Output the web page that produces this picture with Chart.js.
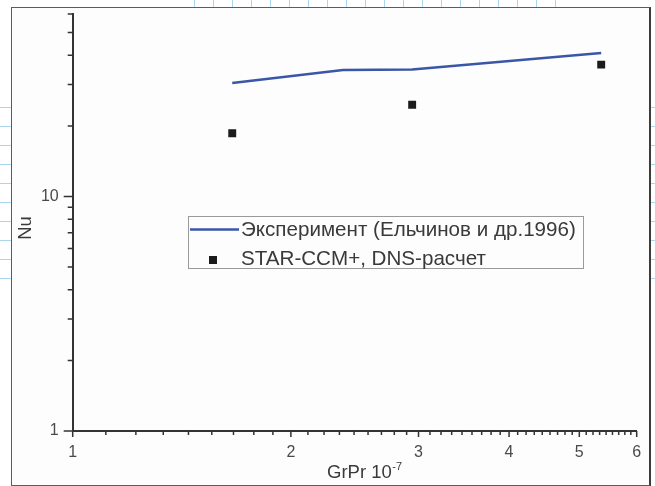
<!DOCTYPE html>
<html>
<head>
<meta charset="utf-8">
<script src="https://cdn.jsdelivr.net/npm/chart.js@4.4.1/dist/chart.umd.min.js"></script>
<style>
  html, body { margin: 0; padding: 0; background: #fff; }
  #wrap { position: relative; width: 655px; height: 486px; overflow: hidden; }
  .paper { position: absolute; }
  .paper.top { left: 194px; top: 0; width: 362px; height: 7px;
    background: repeating-linear-gradient(to right, #a9d7f0 0 1px, transparent 1px 19px); }
  .paper.left { left: 0; top: 107px; width: 11px; height: 172px;
    background: repeating-linear-gradient(to bottom, #a9d7f0 0 1px, transparent 1px 19px); }
  .paper.right { left: 651px; top: 107px; width: 4px; height: 172px;
    background: repeating-linear-gradient(to bottom, #a9d7f0 0 1px, transparent 1px 19px); }
  #frame { position: absolute; left: 11px; top: 7px; width: 640px; height: 479px; box-sizing: border-box;
    border: 1px solid #5c5c5c; border-right: 2px solid #3c3c3c; background: #fdfdfd; }
  canvas { position: absolute; left: 0; top: 0; }
</style>
</head>
<body>
<div id="wrap">
  <div class="paper top"></div>
  <div class="paper left"></div>
  <div class="paper right"></div>
  <div id="frame"></div>
  <canvas id="chart" width="655" height="486"></canvas>
</div>
<script>
// эксперимент (линия)
const expGrPr = [1.66, 2.36, 2.94, 5.36];
const expNu = [30.5, 34.6, 34.8, 40.9];
// STAR-CCM+ (точки)
const simGrPr = [1.66, 2.94, 5.36];
const simNu = [18.6, 24.6, 36.5];

const expLabel = 'Эксперимент (Ельчинов и др.1996)';
const simLabel = 'STAR-CCM+, DNS-расчет';

// деления осей
const xMajor = [1, 2, 3, 4, 5, 6];
const yMajor = [1, 10];
const yMinor = [2, 3, 4, 5, 6, 7, 8, 9, 20, 30, 40, 50, 60];
const xMinor = [];
for (let i = 0; i < xMajor.length - 1; i++) {
  for (let k = 1; k <= 8; k++) xMinor.push(xMajor[i] + k / 9);
}

const lineColor = '#3a57a7';
const dotColor = '#1b1b1b';
const textColor = '#3a3a3a';
const fontFamily = '"Liberation Sans", Arial, sans-serif';

// засечки разной длины рисуем сами
const tickMarks = {
  id: 'tickMarks',
  afterDraw(chart) {
    const { ctx, chartArea, scales } = chart;
    ctx.save();
    ctx.strokeStyle = '#333';
    ctx.lineWidth = 1.5;
    ctx.beginPath();
    xMajor.concat(xMinor).forEach(v => {
      const px = scales.x.getPixelForValue(v);
      const len = xMajor.includes(v) ? 6 : 4;
      ctx.moveTo(px, chartArea.bottom);
      ctx.lineTo(px, chartArea.bottom + len);
    });
    yMajor.concat(yMinor).forEach(v => {
      const py = scales.y.getPixelForValue(v);
      const len = yMajor.includes(v) ? 9 : 5;
      ctx.moveTo(chartArea.left, py);
      ctx.lineTo(chartArea.left - len, py);
    });
    ctx.stroke();
    ctx.restore();
  }
};

// подписи осей (у X есть степень)
const axisTitles = {
  id: 'axisTitles',
  afterDraw(chart) {
    const { ctx } = chart;
    ctx.save();
    ctx.fillStyle = textColor;
    ctx.textBaseline = 'alphabetic';
    ctx.font = '18.5px ' + fontFamily;
    const main = 'GrPr 10';
    const w = ctx.measureText(main).width;
    ctx.fillText(main, 327, 478);
    ctx.font = '11px ' + fontFamily;
    ctx.fillText('-7', 327 + w + 0.5, 470);

    ctx.translate(25.5, 228);
    ctx.rotate(-Math.PI / 2);
    ctx.font = '18.5px ' + fontFamily;
    ctx.textAlign = 'center';
    ctx.textBaseline = 'middle';
    ctx.fillText('Nu', 0, 0);
    ctx.restore();
  }
};

// легенда в рамке внутри поля графика
const boxLegend = {
  id: 'boxLegend',
  afterDraw(chart) {
    const { ctx } = chart;
    ctx.save();
    ctx.fillStyle = '#fdfdfd';
    ctx.fillRect(188.5, 216.5, 395, 52);
    ctx.strokeStyle = '#9a9a9a';
    ctx.lineWidth = 1;
    ctx.strokeRect(188.5, 216.5, 395, 52);

    ctx.strokeStyle = lineColor;
    ctx.lineWidth = 2.5;
    ctx.beginPath();
    ctx.moveTo(190, 229.5);
    ctx.lineTo(239, 229.5);
    ctx.stroke();

    ctx.fillStyle = dotColor;
    ctx.fillRect(209, 256, 8, 8);

    ctx.fillStyle = textColor;
    ctx.font = '20.6px ' + fontFamily;
    ctx.textBaseline = 'middle';
    ctx.fillText(chart.data.datasets[0].label, 241, 230);
    ctx.fillText(chart.data.datasets[1].label, 241, 259);
    ctx.restore();
  }
};

new Chart(document.getElementById('chart'), {
  data: {
    datasets: [
      {
        type: 'line',
        label: expLabel,
        data: expGrPr.map((x, i) => ({ x: x, y: expNu[i] })),
        borderColor: lineColor,
        borderWidth: 2.5,
        pointRadius: 0,
        tension: 0,
        fill: false
      },
      {
        type: 'scatter',
        label: simLabel,
        data: simGrPr.map((x, i) => ({ x: x, y: simNu[i] })),
        pointStyle: 'rect',
        pointRadius: 5.6,
        pointBackgroundColor: dotColor,
        pointBorderWidth: 0
      }
    ]
  },
  options: {
    responsive: false,
    animation: false,
    layout: { padding: { left: 12, top: 14, right: 18.3, bottom: 0 } },
    plugins: {
      legend: { display: false },
      tooltip: { enabled: false }
    },
    scales: {
      x: {
        type: 'logarithmic',
        min: 1,
        max: 6,
        afterBuildTicks: scale => {
          scale.ticks = xMajor.map(v => ({ value: v }));
        },
        afterFit: scale => {
          scale.height = 55;
          scale.paddingLeft = 0;
          scale.paddingRight = 0;
        },
        grid: { display: false, drawTicks: false },
        border: { display: true, color: '#333', width: 2 },
        ticks: {
          autoSkip: false,
          maxRotation: 0,
          padding: 12,
          color: '#4a4a4a',
          font: { family: fontFamily, size: 16 },
          callback: v => String(v)
        },
        title: { display: false }
      },
      y: {
        type: 'logarithmic',
        min: 1,
        max: 60,
        afterBuildTicks: scale => {
          scale.ticks = yMajor.map(v => ({ value: v }));
        },
        afterFit: scale => {
          scale.width = 60.7;
          scale.paddingTop = 0;
          scale.paddingBottom = 0;
        },
        grid: { display: false, drawTicks: false },
        border: { display: true, color: '#333', width: 2 },
        ticks: {
          autoSkip: false,
          padding: 14,
          color: '#4a4a4a',
          font: { family: fontFamily, size: 16 },
          callback: v => String(v)
        },
        title: { display: false }
      }
    }
  },
  plugins: [tickMarks, axisTitles, boxLegend]
});
</script>
</body>
</html>
